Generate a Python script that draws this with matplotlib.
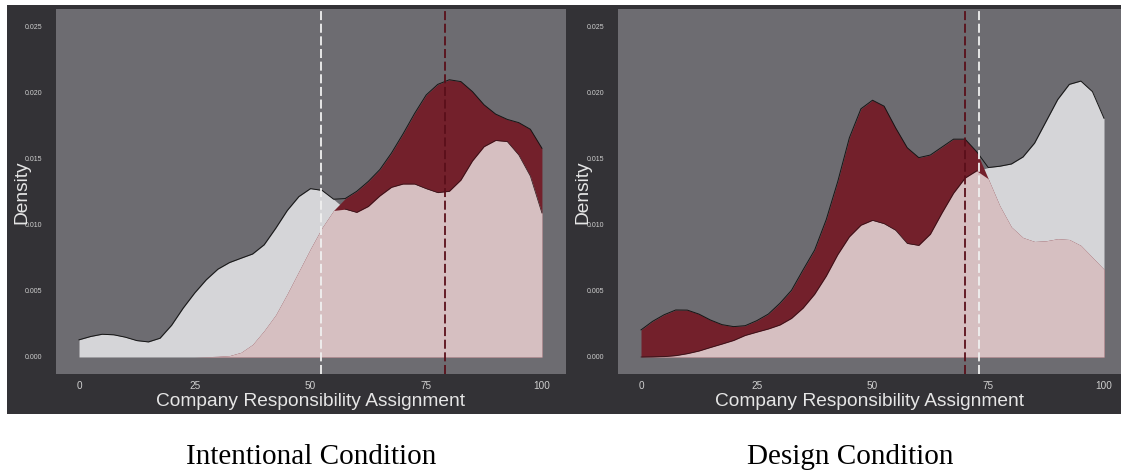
import numpy as np
import matplotlib
matplotlib.use("Agg")
import matplotlib.pyplot as plt
from matplotlib.patches import Rectangle

# ---------------- data ----------------
score = [0, 2.5, 5, 7.5, 10, 12.5, 15, 17.5, 20, 22.5, 25, 27.5, 30, 32.5, 35,
         37.5, 40, 42.5, 45, 47.5, 50, 52.5, 55, 57.5, 60, 62.5, 65, 67.5, 70,
         72.5, 75, 77.5, 80, 82.5, 85, 87.5, 90, 92.5, 95, 97.5, 100]

# Intentional condition
intent_light = [0.00130, 0.00155, 0.00172, 0.00168, 0.00150, 0.00124, 0.00114, 0.00142,
                0.00240, 0.00370, 0.00485, 0.00585, 0.00665, 0.00715, 0.00748, 0.00780,
                0.00850, 0.00975, 0.01110, 0.01215, 0.01275, 0.01262, 0.01195, 0.01120,
                0.01095, 0.01140, 0.01220, 0.01285, 0.01310, 0.01310, 0.01275, 0.01245,
                0.01255, 0.01340, 0.01485, 0.01593, 0.01640, 0.01632, 0.01530, 0.01370,
                0.01090]
intent_red = [0.0, 0.0, 0.0, 0.0, 0.0, 0.0, 0.0, 0.0, 0.0, 0.0, 0.0, 0.00002, 0.00005,
              0.00010, 0.00035, 0.00095, 0.00200, 0.00320, 0.00480, 0.00650, 0.00820,
              0.00980, 0.01110, 0.01200, 0.01255, 0.01330, 0.01420, 0.01545, 0.01690,
              0.01845, 0.01985, 0.02065, 0.02100, 0.02086, 0.02010, 0.01910, 0.01840,
              0.01800, 0.01775, 0.01725, 0.01581]
intent_mean_light = 52.2
intent_mean_red = 79.0

# Design condition
design_light = [0.0, 0.00001, 0.00003, 0.00010, 0.00025, 0.00045, 0.00072, 0.00098,
                0.00125, 0.00163, 0.00188, 0.00212, 0.00242, 0.00292, 0.00370, 0.00475,
                0.00612, 0.00775, 0.00910, 0.00998, 0.01035, 0.01010, 0.00960, 0.00860,
                0.00845, 0.00930, 0.01090, 0.01240, 0.01355, 0.01410, 0.01435, 0.01445,
                0.01462, 0.01515, 0.01620, 0.01785, 0.01950, 0.02065, 0.02090, 0.02010,
                0.01808]
design_red = [0.00205, 0.00270, 0.00320, 0.00356, 0.00355, 0.00325, 0.00280, 0.00245,
              0.00230, 0.00237, 0.00275, 0.00325, 0.00407, 0.00505, 0.00660, 0.00810,
              0.01040, 0.01330, 0.01660, 0.01880, 0.01945, 0.01900, 0.01735, 0.01585,
              0.01510, 0.01530, 0.01590, 0.01650, 0.01650, 0.01555, 0.01350, 0.01145,
              0.00985, 0.00905, 0.00875, 0.00880, 0.00896, 0.00890, 0.00845, 0.00755,
              0.00664]
design_mean_light = 73.0
design_mean_red = 70.0

x_ticks = [0, 25, 50, 75, 100]
y_ticks = [0.000, 0.005, 0.010, 0.015, 0.020, 0.025]
x_label = "Company Responsibility Assignment"
y_label = "Density"
captions = ["Intentional Condition", "Design Condition"]

# ---------------- style ----------------
W, H = 1121, 472
FRAME = "#333236"
PANEL = "#6d6c71"
LIGHT = "#d5d5d8"
DARKRED = "#73202b"
PINK = "#d6bfc1"
TXT = "#e6e6e6"
TICK = "#cfcfcf"
SANS = ["Liberation Sans", "DejaVu Sans"]
SERIF = ["Liberation Serif", "DejaVu Serif"]

fig = plt.figure(figsize=(W / 100, H / 100), dpi=100)
fig.patch.set_facecolor("white")
fig.patches.append(Rectangle((7 / W, (H - 414) / H), (W - 7) / W, (414 - 5) / H,
                             transform=fig.transFigure, facecolor=FRAME,
                             edgecolor="none", zorder=-5))


def px_axes(left, right, top, bottom):
    return [left / W, (H - bottom) / H, (right - left) / W, (bottom - top) / H]


def panel(rect, xlim, light, red, m_light, m_red, ylab_x):
    ax = fig.add_axes(rect)
    ax.set_zorder(2)
    ax.set_facecolor(PANEL)
    x = np.asarray(score)
    lt = np.asarray(light)
    rd = np.asarray(red)
    lo = np.minimum(lt, rd)
    hi = np.maximum(lt, rd)
    ax.fill_between(x, 0, lt, color=LIGHT, lw=0, zorder=2)
    ax.fill_between(x, 0, rd, color=DARKRED, lw=0, zorder=2)
    ax.fill_between(x, 0, lo, color=PINK, lw=0, zorder=3)
    ax.plot(x, hi, color="#151515", lw=0.7, zorder=4)
    ax.plot(x, np.where(lt <= rd, lt, np.nan), color="#2a1015", lw=0.5, zorder=4)
    ax.axvline(m_light, color="#f0f0f0", lw=1.3, dashes=(5, 2), zorder=5)
    ax.axvline(m_red, color="#5a0f1a", lw=1.3, dashes=(5, 2), zorder=5)
    ax.set_xlim(*xlim)
    ax.set_ylim(-0.00129, 0.02636)
    ax.set_xticks(x_ticks)
    ax.set_xticklabels([str(t) for t in x_ticks])
    ax.set_yticks(y_ticks)
    ax.set_yticklabels([f"{t:.3f}" for t in y_ticks])
    for s in ax.spines.values():
        s.set_visible(False)
    ax.tick_params(axis="x", length=0, pad=5, labelsize=7.2, labelcolor=TICK)
    ax.tick_params(axis="y", length=0, pad=10, labelsize=5, labelcolor=TICK)
    for lab in ax.get_xticklabels() + ax.get_yticklabels():
        lab.set_fontfamily(SANS)
    cx = rect[0] + rect[2] / 2
    fig.text(cx, (H - 402) / H, x_label, ha="center", va="center",
             fontsize=13.8, color=TXT, family=SANS, zorder=6)
    fig.text(ylab_x / W, (H - 192) / H, y_label, ha="center", va="center",
             rotation=90, fontsize=13.8, color=TXT, family=SANS, zorder=6)
    return ax


panel(px_axes(56, 566, 9, 374), (-4.97, 105.2), intent_light, intent_red,
      intent_mean_light, intent_mean_red, 22)
panel(px_axes(618, 1121, 9, 374), (-4.97, 103.67), design_light, design_red,
      design_mean_light, design_mean_red, 583)

fig.text(311 / W, (H - 457) / H, captions[0], ha="center", va="center",
         fontsize=21, color="black", family=SERIF)
fig.text(850 / W, (H - 457) / H, captions[1], ha="center", va="center",
         fontsize=21, color="black", family=SERIF)

fig.savefig("out.png", dpi=100, facecolor=fig.get_facecolor())
